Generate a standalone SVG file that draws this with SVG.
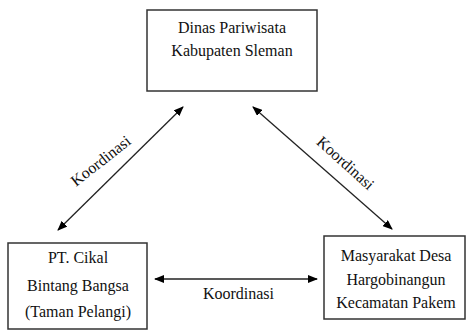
<svg xmlns="http://www.w3.org/2000/svg" width="467" height="331" viewBox="0 0 467 331">
<style>
.box{fill:#fff;stroke:#333;stroke-width:1.5}
.t{font-family:'Liberation Serif','Times New Roman','DejaVu Serif',serif;font-size:16px;fill:#111;text-anchor:middle}
.c{stroke:#222;stroke-width:1.3;fill:none;marker-start:url(#ah);marker-end:url(#ah)}
</style>
<defs>
<marker id="ah" viewBox="0 0 10 8" refX="9" refY="4" markerWidth="10" markerHeight="8" markerUnits="userSpaceOnUse" orient="auto-start-reverse">
<path d="M0,0 L10,4 L0,8 Z" fill="#000"/>
</marker>
</defs>
<rect width="467" height="331" fill="#fff"/>
<g id="connectors">
<line class="c" x1="58" y1="230" x2="183" y2="107"/>
<line class="c" x1="253" y1="107" x2="392" y2="229"/>
<line class="c" x1="155" y1="279" x2="317" y2="279"/>
<text class="t" font-family="Liberation Serif, DejaVu Serif, serif" transform="translate(104,165) rotate(-38)">Koordinasi</text>
<text class="t" font-family="Liberation Serif, DejaVu Serif, serif" transform="translate(342,167) rotate(42)">Koordinasi</text>
<text class="t" font-family="Liberation Serif, DejaVu Serif, serif" x="238.5" y="299">Koordinasi</text>
</g>
<g id="dinas">
<rect class="box" x="147" y="10" width="170" height="81"/>
<text class="t" font-family="Liberation Serif, DejaVu Serif, serif" x="232" y="33">Dinas Pariwisata</text>
<text class="t" font-family="Liberation Serif, DejaVu Serif, serif" x="232" y="56">Kabupaten Sleman</text>
</g>
<g id="pt">
<rect class="box" x="8" y="243" width="139" height="86"/>
<text class="t" font-family="Liberation Serif, DejaVu Serif, serif" x="78" y="263">PT. Cikal</text>
<text class="t" font-family="Liberation Serif, DejaVu Serif, serif" x="78" y="291">Bintang Bangsa</text>
<text class="t" font-family="Liberation Serif, DejaVu Serif, serif" x="78" y="317">(Taman Pelangi)</text>
</g>
<g id="masyarakat">
<rect class="box" x="324" y="236" width="141" height="83"/>
<text class="t" font-family="Liberation Serif, DejaVu Serif, serif" x="396" y="261">Masyarakat Desa</text>
<text class="t" font-family="Liberation Serif, DejaVu Serif, serif" x="396" y="285">Hargobinangun</text>
<text class="t" font-family="Liberation Serif, DejaVu Serif, serif" x="396" y="308">Kecamatan Pakem</text>
</g>
</svg>
